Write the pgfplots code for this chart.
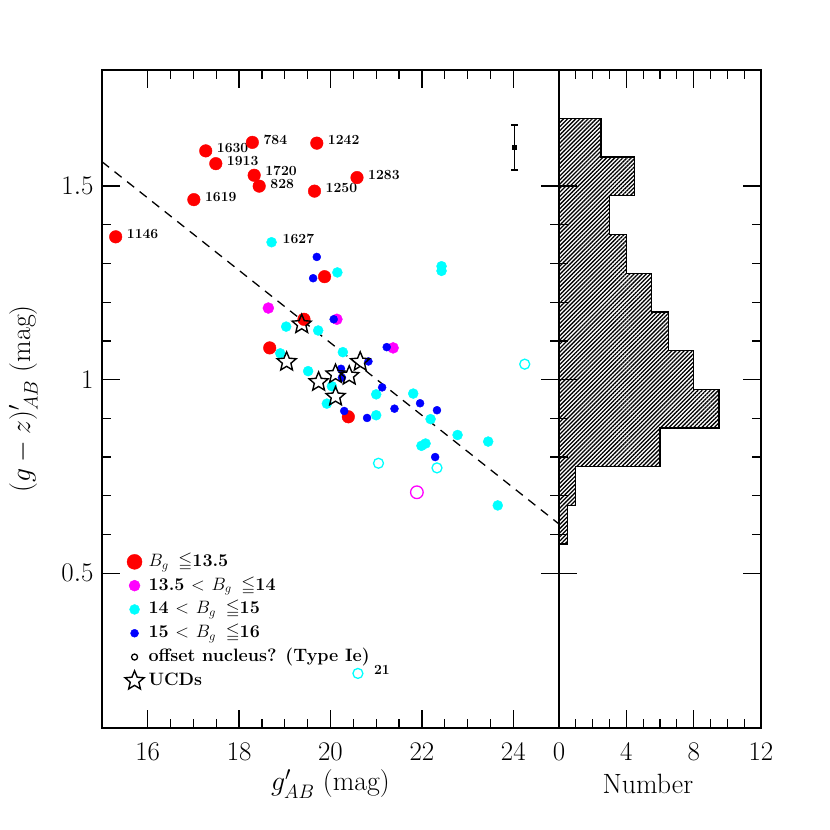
\RequirePackage{fix-cm}
\documentclass[border=0pt]{standalone}
\usepackage{amssymb}
\usepackage{fontspec}
\usepackage{pgfplots}
\pgfplotsset{compat=1.18}
\usetikzlibrary{patterns.meta}
\definecolor{cRed}{RGB}{255,0,0}
\definecolor{cMag}{RGB}{255,0,255}
\definecolor{cCya}{RGB}{0,255,255}
\definecolor{cBlu}{RGB}{0,0,255}
\pgfdeclareplotmark{ostar}{%
  \pgfpathmoveto{\pgfpointpolar{90}{\pgfplotmarksize}}%
  \pgfpathlineto{\pgfpointpolar{126}{0.45\pgfplotmarksize}}%
  \pgfpathlineto{\pgfpointpolar{162}{\pgfplotmarksize}}%
  \pgfpathlineto{\pgfpointpolar{198}{0.45\pgfplotmarksize}}%
  \pgfpathlineto{\pgfpointpolar{234}{\pgfplotmarksize}}%
  \pgfpathlineto{\pgfpointpolar{270}{0.45\pgfplotmarksize}}%
  \pgfpathlineto{\pgfpointpolar{306}{\pgfplotmarksize}}%
  \pgfpathlineto{\pgfpointpolar{342}{0.45\pgfplotmarksize}}%
  \pgfpathlineto{\pgfpointpolar{18}{\pgfplotmarksize}}%
  \pgfpathlineto{\pgfpointpolar{54}{0.45\pgfplotmarksize}}%
  \pgfpathclose
  \pgfusepathqstroke
}
\newcommand\legfont{\fontsize{18}{21}\selectfont\bfseries}
\tikzset{lab/.style={anchor=west, font=\fontsize{14}{16}\selectfont\bfseries, xshift=11bp, yshift=3bp, inner sep=0pt}}
\begin{document}
\begin{tikzpicture}
\useasboundingbox (0,0) rectangle (830bp,830bp);
\pgfplotsset{
  base/.style={
    scale only axis, height=658bp, ymin=0.1, ymax=1.8,
    ytick={0.5,1,1.5}, minor y tick num=4,
    tick align=inside, major tick length=18bp, minor tick length=9bp,
    tick style={black, line width=1.3bp},
    axis line style={line width=1.8bp},
    tick label style={font=\fontsize{27}{32}\selectfont},
    label style={font=\fontsize{28}{33}\selectfont},
    xticklabel style={yshift=-12bp},
  },
}
% ---------------- main panel ----------------
\begin{axis}[base, name=main, at={(102bp,102bp)}, anchor=south west,
  width=457bp, xmin=15, xmax=25, xtick={16,18,20,22,24}, minor x tick num=3,
  yticklabel style={xshift=-5bp},
  xlabel={$g'_{AB}$ (mag)}, ylabel={$(g-z)'_{AB}$ (mag)},
  xlabel style={at={(axis description cs:0.5,-0.085)}, anchor=center},
  ylabel style={at={(axis description cs:-0.172,0.5)}, anchor=center},
  legend style={at={(axis description cs:0.05,0.268)}, anchor=north west,
    draw=none, fill=none, inner sep=0pt, row sep=3.8bp,
    nodes={text height=13bp, text depth=4bp, inner sep=1.5bp, font=\legfont},
    /tikz/every odd column/.append style={column sep=3bp}},
  legend cell align=left,
]
\addlegendimage{only marks, mark=*, color=cRed, mark size=7.5bp}
\addlegendentry{\legfont $B_{g}$\, $\leqq$13.5}
\addlegendimage{only marks, mark=*, color=cMag, mark size=5.5bp}
\addlegendentry{\legfont 13.5 $<$ $B_{g}$\, $\leqq$14}
\addlegendimage{only marks, mark=*, color=cCya, mark size=5bp}
\addlegendentry{\legfont 14 $<$ $B_{g}$\, $\leqq$15}
\addlegendimage{only marks, mark=*, color=cBlu, mark size=4bp}
\addlegendentry{\legfont 15 $<$ $B_{g}$\, $\leqq$16}
\addlegendimage{only marks, mark=o, color=black, mark size=3bp, mark options={line width=1.3bp}}
\addlegendentry{\legfont offset nucleus? (Type Ie)}
\addlegendimage{only marks, mark=ostar, color=black, mark size=10bp, mark options={line width=1.4bp}}
\addlegendentry{\legfont UCDs}

\addplot[black, dashed, line width=1.3bp, dash pattern=on 9bp off 7bp, forget plot]
  coordinates {(15,1.563) (25,0.627)};

% red: B_g <= 13.5
\addplot[only marks, mark=*, color=cRed, mark size=6.3bp, forget plot] coordinates {
(17.27,1.591) (18.29,1.613) (19.70,1.611) (17.49,1.558) (18.33,1.528)
(18.44,1.500) (20.58,1.522) (19.65,1.487) (17.01,1.465) (15.30,1.369)
(19.87,1.266) (19.42,1.156) (18.67,1.082) (20.39,0.904)};
% magenta
\addplot[only marks, mark=*, color=cMag, mark size=5.5bp, forget plot] coordinates {
(18.64,1.185) (20.14,1.156) (21.37,1.082)};
% cyan
\addplot[only marks, mark=*, color=cCya, mark size=5bp, forget plot] coordinates {
(18.71,1.355) (20.15,1.277) (22.43,1.293) (22.43,1.281) (19.03,1.137)
(19.73,1.127) (18.90,1.068) (20.27,1.071) (19.51,1.022) (20.03,0.983)
(19.92,0.938) (21.00,0.908) (21.00,0.962) (21.81,0.964) (22.19,0.898)
(22.78,0.857) (23.45,0.840) (21.99,0.829) (22.08,0.835) (23.66,0.675)};
% blue
\addplot[only marks, mark=*, color=cBlu, mark size=4bp, forget plot] coordinates {
(19.70,1.317) (19.62,1.262) (20.07,1.156) (21.23,1.084) (20.83,1.047)
(20.23,1.028) (20.25,1.005) (20.30,0.919) (20.80,0.901) (21.13,0.980)
(21.96,0.939) (21.40,0.925) (22.33,0.921) (22.29,0.800)};
% open (offset nucleus)
\addplot[only marks, mark=o, color=cCya, mark size=5bp, mark options={line width=1.3bp}, forget plot] coordinates {
(24.25,1.040) (21.05,0.784) (22.33,0.772) (20.60,0.241)};
\addplot[only marks, mark=o, color=cMag, mark size=6.3bp, mark options={line width=1.3bp}, forget plot] coordinates {
(21.89,0.709)};
% UCDs
\addplot[only marks, mark=ostar, color=black, mark size=10bp, mark options={line width=1.4bp}, forget plot] coordinates {
(19.37,1.143) (19.04,1.046) (20.65,1.046) (19.74,0.994) (20.11,1.014)
(20.41,1.010) (20.11,0.956)};
% typical error
\addplot[only marks, black, mark=square*, mark size=2bp, forget plot,
  error bars/.cd, y dir=both, y explicit,
  error bar style={line width=1.3bp},
  error mark options={rotate=90, mark size=3.5bp, line width=1.3bp}]
  coordinates {(24.03,1.600) +- (0,0.058)};

\node[lab] at (axis cs:17.27,1.591) {1630};
\node[lab] at (axis cs:18.29,1.613) {784};
\node[lab] at (axis cs:19.70,1.611) {1242};
\node[lab] at (axis cs:17.49,1.558) {1913};
\node[lab, yshift=1.5bp] at (axis cs:18.33,1.528) {1720};
\node[lab, yshift=-0.5bp] at (axis cs:18.44,1.500) {828};
\node[lab] at (axis cs:20.58,1.522) {1283};
\node[lab] at (axis cs:19.65,1.487) {1250};
\node[lab] at (axis cs:17.01,1.465) {1619};
\node[lab] at (axis cs:15.30,1.369) {1146};
\node[lab] at (axis cs:18.71,1.355) {1627};
\node[lab, xshift=5bp] at (axis cs:20.60,0.241) {21};
\end{axis}
% ---------------- histogram panel ----------------
\begin{axis}[base, at={(559bp,102bp)}, anchor=south west,
  width=202bp, xmin=0, xmax=12, xtick={0,4,8,12}, minor x tick num=3,
  yticklabels={}, xlabel={Number},
  xlabel style={at={(axis description cs:0.44,-0.085)}, anchor=center},
]
\addplot[draw=black, line width=1.3bp,
  pattern={Lines[angle=45, distance=2.9bp, line width=1.3bp]}] coordinates {
(0,0.575) (0.5,0.575) (0.5,0.675) (1,0.675) (1,0.775) (6,0.775) (6,0.875)
(9.5,0.875) (9.5,0.975) (8,0.975) (8,1.075) (6.5,1.075) (6.5,1.175)
(5.5,1.175) (5.5,1.275) (4,1.275) (4,1.375) (3,1.375) (3,1.475)
(4.5,1.475) (4.5,1.575) (2.5,1.575) (2.5,1.675) (0,1.675)} -- cycle;
\end{axis}
\end{tikzpicture}
\end{document}
